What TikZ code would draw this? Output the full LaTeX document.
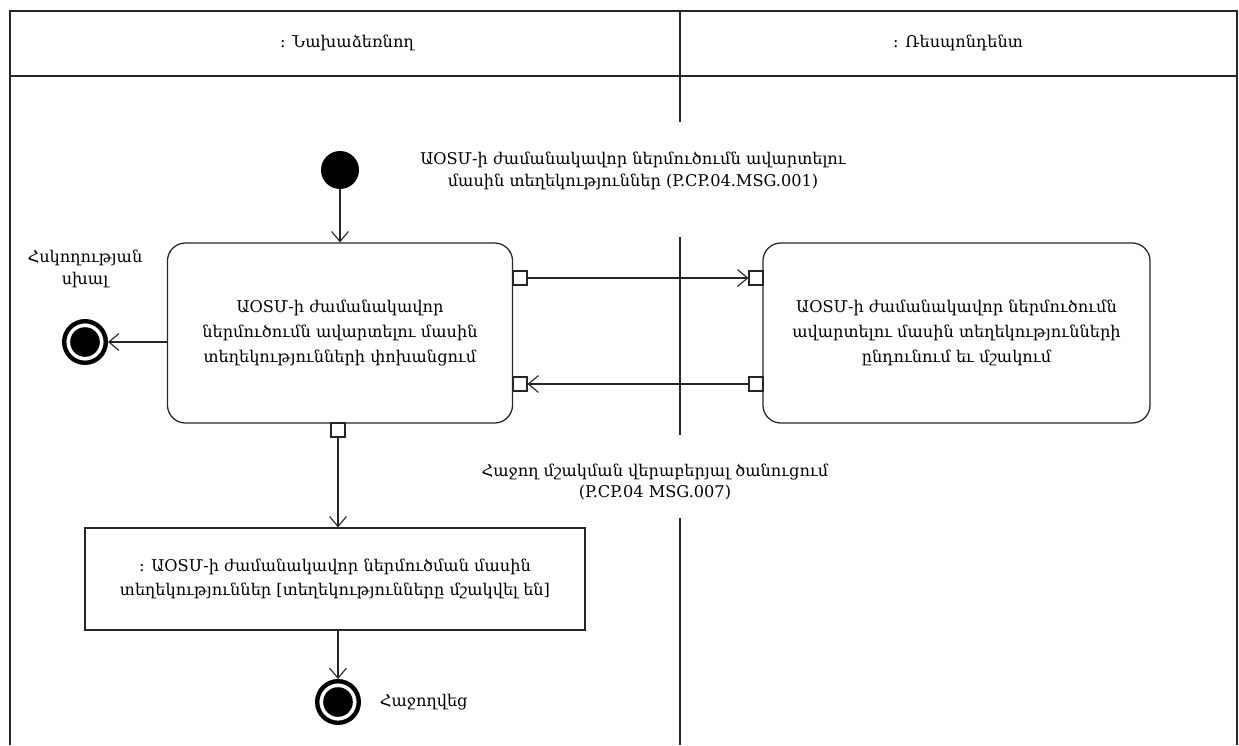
\documentclass[tikz,border=0pt]{standalone}
\usepackage{fontspec}
\setmainfont{DejaVu Serif}
\usetikzlibrary{positioning,arrows.meta}
\colorlet{ink}{black!85}

\begin{document}
\begin{tikzpicture}[x=0.025cm,y=-0.025cm,
  font=\fontsize{11.5}{15.5}\selectfont,
  lane/.style={draw=ink,line width=1.1pt},
  flow/.style={draw=ink,line width=0.8pt,-{Straight Barb[length=2.5mm,width=4.2mm]}},
  act/.style={draw=ink,line width=0.9pt,rounded corners=0.45cm,align=center,
    font=\fontsize{11.5}{17.5}\selectfont},
  objbox/.style={draw=ink,line width=0.9pt,align=center,font=\fontsize{11.5}{17.5}\selectfont},
  pinbox/.style={draw=ink,line width=0.8pt,fill=white,minimum size=0.35cm,inner sep=0},
  start/.style={circle,fill=black,minimum size=0.95cm,inner sep=0},
  final/.style={circle,draw=black,line width=0.11cm,minimum size=1.04cm,inner sep=0,
    path picture={\fill (path picture bounding box.center) circle (0.37cm);}},
  msg/.style={align=center}]
\useasboundingbox (0,0) rectangle (1239,745);
% swimlanes
\draw[lane] (10,745) -- (10,11) -- (1237,11) -- (1237,745);
\draw[lane] (10,76) -- (1237,76);
\draw[lane] (680,11) -- (680,122) (680,237) -- (680,435) (680,518) -- (680,745);
\node (initiator) at (347,43) {: Նախաձեռնող};
\node (respondent) at (958,43) {: Ռեսպոնդենտ};
% actions
\node[start] (init) at (340,170) {};
\node[act,minimum width=8.625cm,minimum height=4.5cm] (send) at (340,333)
  {ԱOSՄ-ի ժամանակավոր\\ներմուծումն ավարտելու մասին\\տեղեկությունների փոխանցում};
\node[act,minimum width=9.675cm,minimum height=4.5cm] (recv) at (956.5,333)
  {ԱOSՄ-ի ժամանակավոր ներմուծումն\\ավարտելու մասին տեղեկությունների\\ընդունում եւ մշակում};
\node[objbox,minimum width=12.5cm,minimum height=2.55cm] (info) at (335,579)
  {: ԱOSՄ-ի ժամանակավոր ներմուծման մասին\\տեղեկություններ [տեղեկությունները մշակվել են]};
% pins
\node[pinbox] (sendout) at (520,278) {};
\node[pinbox] (sendin) at (520,384) {};
\node[pinbox] (recvin) at (756,278) {};
\node[pinbox] (recvout) at (756,384) {};
\node[pinbox] (sendres) at (338,430) {};
% final nodes
\node[final] (err) at (85,342) {};
\node[msg,above=0.65cm of err] (errlbl) {Հսկողության\\սխալ};
\node[final] (ok) at (338,702) {};
\node[right=0.35cm of ok] (oklbl) {Հաջողվեց};
% messages
\node[msg] (msgone) at (633,171)
  {ԱOSՄ-ի ժամանակավոր ներմուծումն ավարտելու\\մասին տեղեկություններ (P.CP.04.MSG.001)};
\node[msg] (msgtwo) at (655,482)
  {Հաջող մշակման վերաբերյալ ծանուցում\\(P.CP.04 MSG.007)};
% flows
\draw[flow] (init) -- (send);
\draw[flow] (sendout) -- (recvin);
\draw[flow] (recvout) -- (sendin);
\draw[flow] (send.west |- err) -- (err);
\draw[flow] (sendres) -- (sendres |- info.north);
\draw[flow] (info.south -| ok) -- (ok);
\end{tikzpicture}
\end{document}
